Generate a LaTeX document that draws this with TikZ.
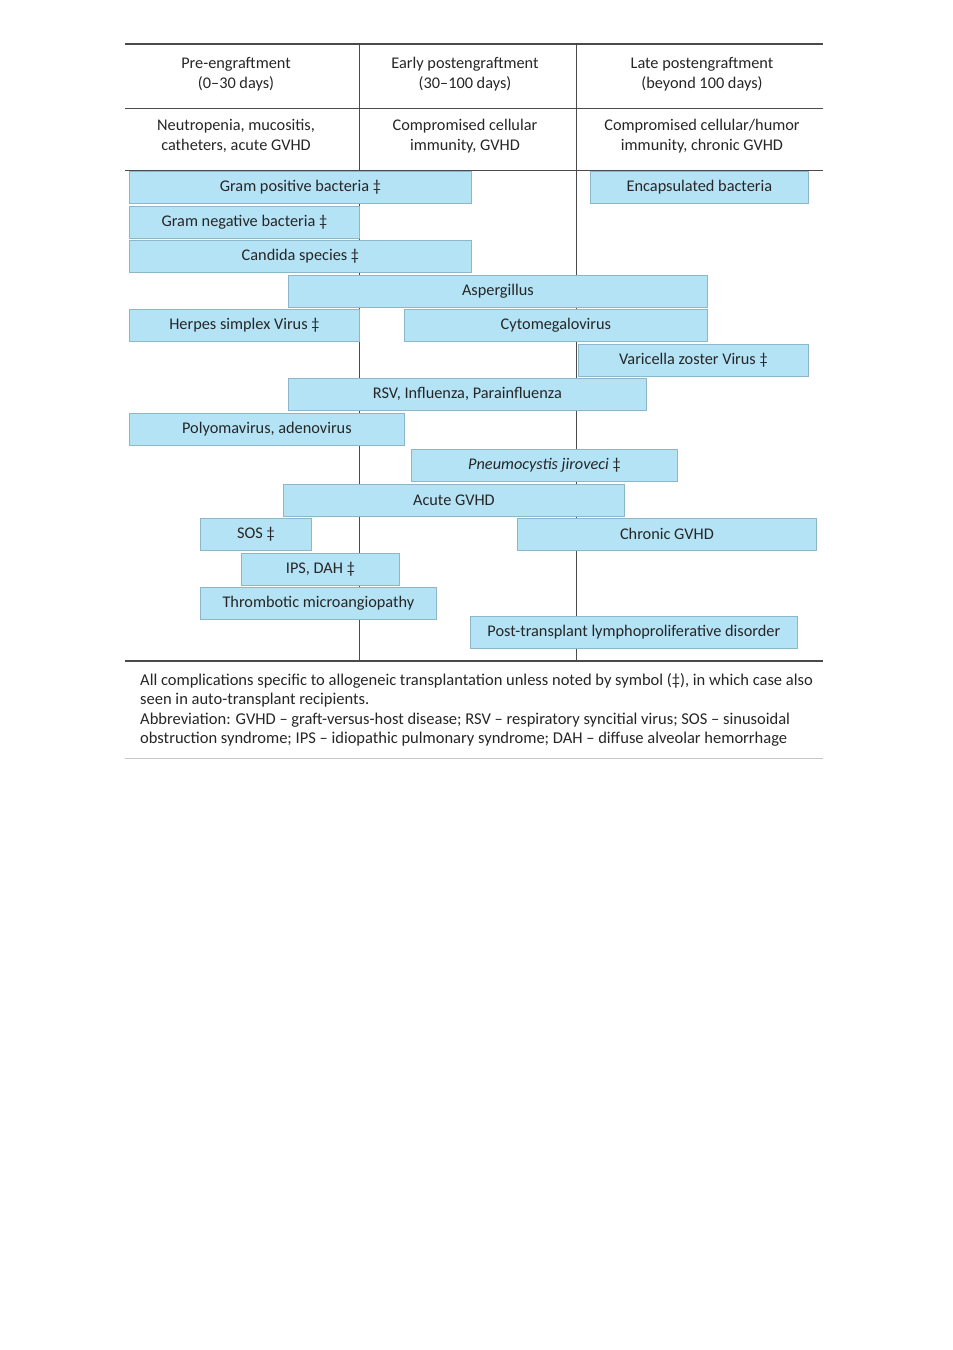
\documentclass[tikz,border=0pt]{standalone}
\usepackage{fontspec}
\setmainfont{Carlito}
\usetikzlibrary{positioning}

\definecolor{barfill}{HTML}{B5E3F6}
\definecolor{bardraw}{HTML}{8DB6CB}
\definecolor{rulegray}{HTML}{4A4A4A}

\tikzset{
  bar/.style={draw=bardraw, fill=barfill, line width=0.8pt, anchor=west,
    minimum height=32pt, inner sep=0pt, font=\fontsize{16.3}{19}\selectfont, text=black!85},
  head/.style={align=center, font=\fontsize{16.3}{20}\selectfont, text=black!85},
  rulemain/.style={rulegray, line width=1.2pt},
  rulecol/.style={rulegray, line width=0.9pt}
}

\begin{document}
\begin{tikzpicture}[x=1pt, y=-1pt]
    % --- page frame ---
    \useasboundingbox[fill=white] (0,0) rectangle (953,1350);

    % --- table geometry ---
    \def\xL{125}     % left edge of the rules
    \def\xR{823}     % right edge of the rules
    \def\xA{359}     % first column line
    \def\xB{576}     % second column line
    \def\yTop{44}
    \def\yMid{108}
    \def\yHead{170}
    \def\yBot{661}

    % --- rules ---
    \draw[rulecol] (\xA,\yTop) -- (\xA,\yBot);
    \draw[rulecol] (\xB,\yTop) -- (\xB,\yBot);
    \draw[rulemain] (\xL,\yTop) -- (\xR,\yTop);
    \draw[rulecol] (\xL,\yMid) -- (\xR,\yMid);
    \draw[rulecol] (\xL,\yHead) -- (\xR,\yHead);
    \draw[rulemain] (\xL,\yBot) -- (\xR,\yBot);
    \draw[black!22, line width=0.8pt] (\xL,758) -- (\xR,758);

    % --- column heads ---
    \node[head] (pre)   at (236,74) {Pre-engraftment\\(0--30 days)};
    \node[head] (early) at (465,74) {Early postengraftment\\(30--100 days)};
    \node[head] (late)  at (702,74) {Late postengraftment\\(beyond 100 days)};

    \node[head] (preRisk)   at (236,136) {Neutropenia, mucositis,\\catheters, acute GVHD};
    \node[head] (earlyRisk) at (465,136) {Compromised cellular\\immunity, GVHD};
    \node[head] (lateRisk)  at (702,136) {Compromised cellular/humor\\immunity, chronic GVHD};

    % --- complication bars (left end, width, row centre) ---
    \node[bar, minimum width=342] (gramPos)  at (129,187) {Gram positive bacteria ‡};
    \node[bar, minimum width=218] (encaps)   at (590,187) {Encapsulated bacteria};
    \node[bar, minimum width=230] (gramNeg)  at (129,222) {Gram negative bacteria ‡};
    \node[bar, minimum width=342] (candida)  at (129,256) {Candida species ‡};
    \node[bar, minimum width=419] (asperg)   at (288,291) {Aspergillus};
    \node[bar, minimum width=230] (herpes)   at (129,325) {Herpes simplex Virus ‡};
    \node[bar, minimum width=303] (cmv)      at (404,325) {Cytomegalovirus};
    \node[bar, minimum width=230] (vzv)      at (578,360) {Varicella zoster Virus ‡};
    \node[bar, minimum width=358] (rsv)      at (288,394) {RSV, Influenza, Parainfluenza};
    \node[bar, minimum width=275] (polyoma)  at (129,429) {Polyomavirus, adenovirus};
    \node[bar, minimum width=266] (pneumo)   at (411,465) {\textit{Pneumocystis jiroveci} ‡};
    \node[bar, minimum width=341] (aGVHD)    at (283,500) {Acute GVHD};
    \node[bar, minimum width=111] (sos)      at (200,534) {SOS ‡};
    \node[bar, minimum width=299] (cGVHD)    at (517,534) {Chronic GVHD};
    \node[bar, minimum width=158] (ipsDah)   at (241,569) {IPS, DAH ‡};
    \node[bar, minimum width=236] (tma)      at (200,603) {Thrombotic microangiopathy};
    \node[bar, minimum width=327] (ptld)     at (470,632) {Post-transplant lymphoproliferative disorder};

    % --- footnote ---
    \node[anchor=north west, align=left, inner sep=0pt, text=black!85,
      font=\fontsize{16.5}{19.4}\selectfont] (note) at (140,673)
      {All complications specific to allogeneic transplantation unless noted by symbol (‡), in which case also\\
       seen in auto-transplant recipients.\\
       Abbreviation: GVHD -- graft-versus-host disease; RSV -- respiratory syncitial virus; SOS -- sinusoidal\\
       obstruction syndrome; IPS -- idiopathic pulmonary syndrome; DAH -- diffuse alveolar hemorrhage};
\end{tikzpicture}
\end{document}
